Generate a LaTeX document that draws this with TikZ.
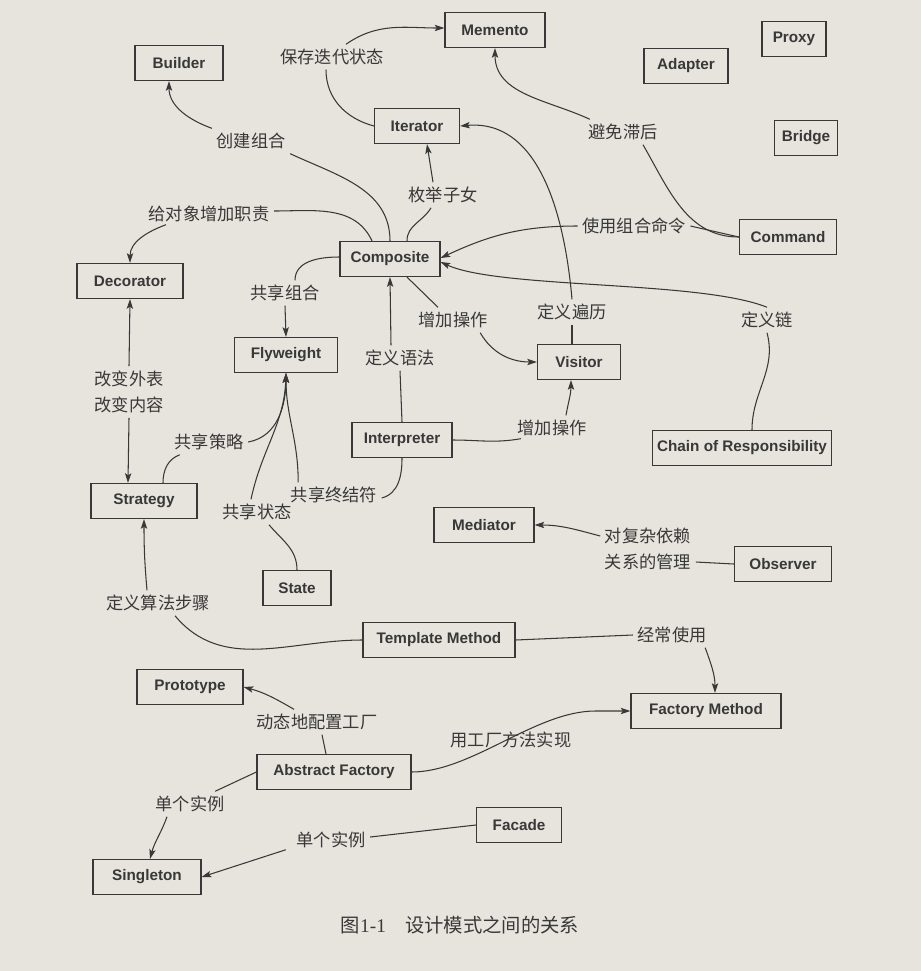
\documentclass[tikz,border=0pt]{standalone}
\usepackage{fontspec}
\setmainfont{Liberation Serif}
\newfontfamily\cjk{Noto Sans CJK SC}
\newfontfamily\boxfont{Liberation Sans}
\usetikzlibrary{arrows.meta,calc}
\definecolor{paper}{HTML}{E6E4DD}
\definecolor{ink}{HTML}{383838}
\begin{document}
\begin{tikzpicture}[x=0.02cm,y=0.02cm,
  box/.style={draw=ink, line width=0.7pt, minimum height=0.7cm, inner sep=0pt,
    font=\boxfont\bfseries\fontsize{8.7}{10}\selectfont, text=ink},
  lbl/.style={font=\cjk\fontsize{9.8}{15}\selectfont, text=ink, inner sep=2.5pt, align=center},
  link/.style={draw=ink, line width=0.6pt},
  arr/.style={link, -{Stealth[length=5.5pt,width=3.6pt,inset=1.2pt]}}]
\fill[paper] (0,0) rectangle (921,-971);
\useasboundingbox (0,0) rectangle (921,-971);

% pattern boxes
\node[box, minimum width=2.00cm] (memento)     at (495,-30)  {Memento};
\node[box, minimum width=1.76cm] (builder)     at (179,-63)  {Builder};
\node[box, minimum width=1.28cm] (proxy)       at (794,-39)  {Proxy};
\node[box, minimum width=1.68cm] (adapter)     at (686,-66)  {Adapter};
\node[box, minimum width=1.70cm] (iterator)    at (417,-126) {Iterator};
\node[box, minimum width=1.26cm] (bridge)      at (806,-138) {Bridge};
\node[box, minimum width=1.94cm] (command)     at (788,-237) {Command};
\node[box, minimum width=2.00cm] (composite)   at (390,-259) {Composite};
\node[box, minimum width=2.12cm] (decorator)   at (130,-281) {Decorator};
\node[box, minimum width=2.06cm] (flyweight)   at (286,-355) {Flyweight};
\node[box, minimum width=1.66cm] (visitor)     at (579,-362) {Visitor};
\node[box, minimum width=2.00cm] (interpreter) at (402,-440) {Interpreter};
\node[box, minimum width=3.58cm] (chain)       at (742,-448) {Chain of Responsibility};
\node[box, minimum width=2.12cm] (strategy)    at (144,-501) {Strategy};
\node[box, minimum width=2.00cm] (mediator)    at (484,-525) {Mediator};
\node[box, minimum width=1.94cm] (observer)    at (783,-564) {Observer};
\node[box, minimum width=1.36cm] (state)       at (297,-588) {State};
\node[box, minimum width=3.04cm] (template)    at (439,-640) {Template Method};
\node[box, minimum width=2.12cm] (prototype)   at (190,-687) {Prototype};
\node[box, minimum width=3.00cm] (factorym)    at (706,-711) {Factory Method};
\node[box, minimum width=3.08cm] (abstractf)   at (334,-772) {Abstract Factory};
\node[box, minimum width=1.70cm] (facade)      at (519,-825) {Facade};
\node[box, minimum width=2.16cm] (singleton)   at (147,-877) {Singleton};

% relation labels
\node[lbl] (lSave)      at (332,-57)  {保存迭代状态};
\node[lbl] (lBuild)     at (251,-141) {创建组合};
\node[lbl] (lEnum)      at (443,-195) {枚举子女};
\node[lbl] (lLag)       at (623,-132) {避免滞后};
\node[lbl] (lDeco)      at (209,-214) {给对象增加职责};
\node[lbl] (lCmd)       at (634,-226) {使用组合命令};
\node[lbl] (lShareComp) at (285,-293) {共享组合};
\node[lbl] (lAddOp)     at (453,-320) {增加操作};
\node[lbl] (lTrav)      at (572,-312) {定义遍历};
\node[lbl] (lChain)     at (767,-320) {定义链};
\node[lbl] (lSkin)      at (129,-392) {改变外表\\改变内容};
\node[lbl] (lGram)      at (400,-358) {定义语法};
\node[lbl] (lAddOp2)    at (552,-428) {增加操作};
\node[lbl] (lShStrat)   at (209,-442) {共享策略};
\node[lbl] (lShTerm)    at (334,-495) {共享终结符};
\node[lbl] (lShState)   at (257,-512) {共享状态};
\node[lbl] (lDep)       at (648,-549) {对复杂依赖\\关系的管理};
\node[lbl] (lAlgo)      at (158,-603) {定义算法步骤};
\node[lbl] (lOften)     at (672,-635) {经常使用};
\node[lbl] (lConf)      at (317,-722) {动态地配置工厂};
\node[lbl] (lOne)       at (190,-804) {单个实例};
\node[lbl] (lOne2)      at (331,-840) {单个实例};

% Iterator -> Memento
\draw[link] (iterator.west) to[out=165,in=270] ($(lSave.south)+(-6,0)$);
\draw[arr] ($(lSave.north)+(14,0)$) to[out=35,in=180] ($(memento.west)+(0,2)$);
% Composite -> Builder
\draw[link] (composite.north) to[out=90,in=-25] (lBuild.south east);
\draw[arr] (lBuild.north west) to[out=160,in=270] ($(builder.south)+(-10,0)$);
% Composite -> Iterator
\draw[link] ($(composite.north)+(17,0)$) to[out=90,in=240] ($(lEnum.south)+(-12,0)$);
\draw[arr] ($(lEnum.north)+(-10,0)$) -- ($(iterator.south)+(10,0)$);
% Command -> Memento
\draw[link] (command.west) to[out=180,in=-60] ($(lLag.south)+(20,0)$);
\draw[arr] ($(lLag.north west)+(6,0)$) to[out=155,in=270] (memento.south);
% Composite -> Decorator
\draw[link] ($(composite.north)+(-18,0)$) to[out=115,in=0] ($(lDeco.east)+(0,3)$);
\draw[arr] ($(lDeco.south west)+(22,2)$) to[out=200,in=90] (decorator.north);
% Command -> Composite
\draw[link] (command.west) -- (lCmd.east);
\draw[arr] (lCmd.west) to[out=180,in=25] ($(composite.east)+(0,1)$);
% Chain of Responsibility -> Composite
\draw[link] ($(chain.north)+(10,0)$) to[out=90,in=-75] (lChain.south);
\draw[arr] (lChain.north) .. controls +(-67,27) and +(59,-27) .. ($(composite.east)+(0,-3)$);
% Visitor -> Iterator
\draw[link] ($(visitor.north)+(-7,0)$) -- (lTrav.south);
\draw[arr] (lTrav.north) to[out=95,in=5] (iterator.east);
% Composite -> Visitor
\draw[link] ($(composite.south)+(17,0)$) -- ($(lAddOp.north)+(-15,0)$);
\draw[arr] ($(lAddOp.south east)+(-12,0)$) to[out=-60,in=180] (visitor.west);
% Composite -> Flyweight
\draw[link] ($(composite.west)+(0,2)$) to[out=180,in=90] ($(lShareComp.north)+(10,0)$);
\draw[arr] (lShareComp.south) -- (flyweight.north);
% Interpreter -> Composite
\draw[link] (interpreter.north) -- (lGram.south);
\draw[arr] ($(lGram.north)+(-9,0)$) -- (composite.south);
% Decorator <-> Strategy
\draw[arr] (lSkin.north) -- (decorator.south);
\draw[arr] (lSkin.south) -- ($(strategy.north)+(-16,0)$);
% Interpreter -> Visitor
\draw[link] (interpreter.east) to[out=0,in=190] ($(lAddOp2.south west)+(8,2)$);
\draw[arr] ($(lAddOp2.north)+(14,0)$) to[out=80,in=270] ($(visitor.south)+(-8,0)$);
% Strategy / State / Interpreter -> Flyweight
\draw[link] ($(strategy.north)+(19,0)$) to[out=90,in=200] ($(lShStrat.south west)+(10,0)$);
\draw[arr] (lShStrat.east) to[out=10,in=270] (flyweight.south);
\draw[link] (state.north) to[out=90,in=-50] ($(lShState.south)+(12,0)$);
\draw[arr] ($(lShState.north)+(-6,0)$) to[out=78,in=268] (flyweight.south);
\draw[link] (interpreter.south) to[out=270,in=15] ($(lShTerm.east)+(0,-3)$);
\draw[arr] ($(lShTerm.north west)+(12,0)$) to[out=90,in=270] (flyweight.south);
% Observer -> Mediator
\draw[link] (observer.west) -- ($(lDep.east)+(0,-13)$);
\draw[arr] ($(lDep.west)+(0,13)$) to[out=165,in=0] (mediator.east);
% Template Method -> Strategy
\draw[link] (template.west) to[out=180,in=-50] ($(lAlgo.south)+(17,0)$);
\draw[arr] ($(lAlgo.north)+(-11,0)$) to[out=95,in=270] (strategy.south);
% Template Method -> Factory Method
\draw[link] (template.east) -- (lOften.west);
\draw[arr] ($(lOften.south east)+(-6,0)$) to[out=-70,in=90] ($(factorym.north)+(9,0)$);
% Abstract Factory -> Prototype
\draw[link] ($(abstractf.north)+(-8,0)$) -- ($(lConf.south)+(5,0)$);
\draw[arr] ($(lConf.north)+(-23,0)$) to[out=150,in=-15] (prototype.east);
% Abstract Factory -> Factory Method
\draw[arr] (abstractf.east) .. controls +(60,0) and +(-60,0) .. ($(factorym.west)+(-35,0)$) -- (factorym.west);
\node[lbl] (lFM) at (511,-740) {用工厂方法实现};
% Abstract Factory / Facade -> Singleton
\draw[link] (abstractf.west) -- ($(lOne.north east)+(-14,0)$);
\draw[arr] ($(lOne.south)+(-23,0)$) to[out=250,in=75] ($(singleton.north)+(3,0)$);
\draw[link] (facade.west) -- ($(lOne2.east)+(0,3)$);
\draw[arr] ($(lOne2.south west)+(-6,3)$) -- (singleton.east);

% caption
\node[font=\cjk\fontsize{11}{13}\selectfont, text=ink] (caption) at (460,-925)
  {图{\rmfamily 1-1}\hspace{1em}设计模式之间的关系};
\end{tikzpicture}
\end{document}
